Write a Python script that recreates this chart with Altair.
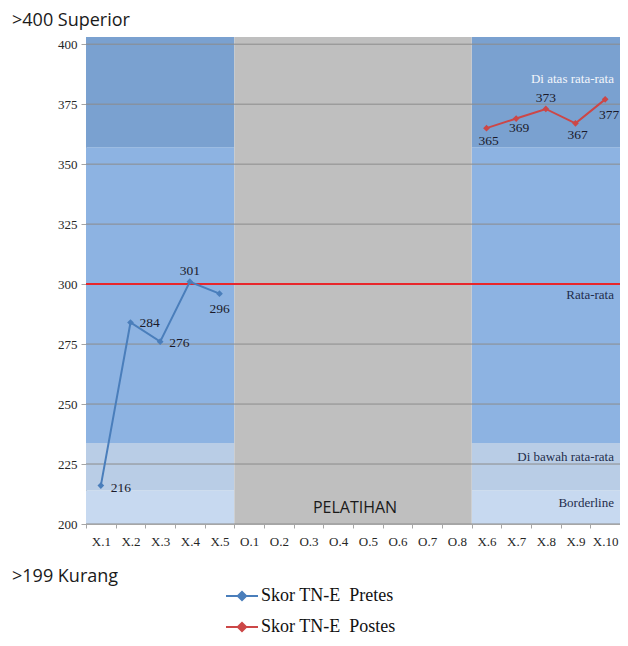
import altair as alt
import pandas as pd

# ---------------- data ----------------
categories = ["X.1", "X.2", "X.3", "X.4", "X.5",
              "O.1", "O.2", "O.3", "O.4", "O.5", "O.6", "O.7", "O.8",
              "X.6", "X.7", "X.8", "X.9", "X.10"]
pretes_cats = ["X.1", "X.2", "X.3", "X.4", "X.5"]
pretes_scores = [216, 284, 276, 301, 296]
postes_cats = ["X.6", "X.7", "X.8", "X.9", "X.10"]
postes_scores = [365, 369, 373, 367, 377]
series_names = ["Skor TN-E\u00a0 Pretes", "Skor TN-E\u00a0 Postes"]
series_colors = ["#4a7ebb", "#cc4747"]

band_names = ["Borderline", "Di bawah rata-rata", "Rata-rata", "Di atas rata-rata"]
band_low = [200, 214, 233.75, 357]
band_high = [214, 233.75, 357, 403]
band_colors = ["#c7d9f0", "#b9cde6", "#8db3e2", "#7aa1d0"]
scored_spans = [["X.1", "X.5"], ["X.6", "X.10"]]
training_span = ["O.1", "O.8"]
training_label = "PELATIHAN"
mean_score = [300]
y_ticks = [200, 225, 250, 275, 300, 325, 350, 375, 400]
y_domain = [200, 403]
top_note = ">400 Superior"
bottom_note = ">199 Kurang"

# ---------------- tables ----------------
band_rows = []
for s, e in scored_spans:
    for n, lo, hi in zip(band_names, band_low, band_high):
        band_rows.append({"start": s, "end": e, "low": lo, "high": hi, "band": n})
bands_df = pd.DataFrame(band_rows)
train_df = pd.DataFrame({"start": [training_span[0]], "end": [training_span[1]],
                         "low": [y_domain[0]], "high": [y_domain[1]]})
grid_df = pd.DataFrame({"tick": y_ticks})
mean_df = pd.DataFrame({"score": mean_score})
lines_df = pd.DataFrame({
    "category": pretes_cats + postes_cats,
    "score": pretes_scores + postes_scores,
    "series": [series_names[0]] * len(pretes_cats) + [series_names[1]] * len(postes_cats),
})

SERIF = "Liberation Serif"
SANS = "Open Sans"

xscale = alt.Scale(domain=categories, paddingInner=0, paddingOuter=0)
yscale = alt.Scale(domain=y_domain, nice=False, zero=False)

xaxis = alt.Axis(title=None, labelAngle=0, labelFont=SERIF, labelFontSize=13,
                 labelColor="#262626", domainColor="#a6a6a6", tickColor="#a6a6a6",
                 tickSize=4, tickBand="extent", labelPadding=7, grid=False)
yaxis = alt.Axis(title=None, values=y_ticks, labelFont=SERIF, labelFontSize=13,
                 labelColor="#262626", domainColor="#a6a6a6", tickColor="#a6a6a6",
                 tickSize=5, labelPadding=4, grid=False)

bands = alt.Chart(bands_df).mark_rect(strokeWidth=0).encode(
    x=alt.X("start:N", scale=xscale, sort=categories, bandPosition=0, axis=xaxis),
    x2=alt.X2("end:N", bandPosition=1),
    y=alt.Y("low:Q", scale=yscale, axis=yaxis),
    y2="high:Q",
    fill=alt.Fill("band:N", scale=alt.Scale(domain=band_names, range=band_colors), legend=None),
)

training = alt.Chart(train_df).mark_rect(color="#bfbfbf", strokeWidth=0).encode(
    x=alt.X("start:N", sort=categories, bandPosition=0),
    x2=alt.X2("end:N", bandPosition=1),
    y="low:Q",
    y2="high:Q",
)

grid = alt.Chart(grid_df).mark_rule(color="#8c8c8c", strokeWidth=1).encode(y="tick:Q")

mean_rule = alt.Chart(mean_df).mark_rule(color="#e8262b", strokeWidth=2).encode(y="score:Q")

legend = alt.Legend(
    title=None, orient="none", legendX=139, legendY=542, padding=0,
    symbolType="M-1,0L1,0M-0.26,0L0,-0.26L0.26,0L0,0.26Z",
    symbolSize=1024, symbolStrokeWidth=2, rowPadding=5, labelOffset=2,
    labelFont=SERIF, labelFontSize=18, labelColor="#111111", labelLimit=300,
)

lines = alt.Chart(lines_df).mark_line(
    strokeWidth=2,
    point=alt.OverlayMarkDef(shape="diamond", filled=True, size=45),
).encode(
    x=alt.X("category:N", sort=categories),
    y="score:Q",
    color=alt.Color("series:N", scale=alt.Scale(domain=series_names, range=series_colors),
                    legend=legend),
)

# data labels, one small layer per point placement
label_place = {
    "X.1": (10, 2, "left"), "X.2": (9, 1, "left"), "X.3": (9, 1, "left"),
    "X.4": (0, -11, "center"), "X.5": (0, 15, "center"),
    "X.6": (2, 13, "center"), "X.7": (3, 9, "center"), "X.8": (0, -11, "center"),
    "X.9": (2, 12, "center"), "X.10": (4, 16, "center"),
}
label_layers = []
for cat, (dx, dy, al) in label_place.items():
    label_layers.append(
        alt.Chart(lines_df).transform_filter(alt.datum.category == cat).mark_text(
            font=SERIF, fontSize=13.5, color="#1a1a2a", dx=dx, dy=dy, align=al,
            baseline="middle",
        ).encode(x=alt.X("category:N", sort=categories), y="score:Q", text="score:Q")
    )

# band name annotations
band_label_at = {"Di atas rata-rata": 385.4, "Rata-rata": 295.4,
                 "Di bawah rata-rata": 227.9, "Borderline": 208.6}
band_label_color = {"Di atas rata-rata": "#f3f6fb", "Rata-rata": "#1f2d4d",
                    "Di bawah rata-rata": "#1f2d4d", "Borderline": "#1f2d4d"}
band_label_layers = []
for n in band_names:
    band_label_layers.append(
        alt.Chart(pd.DataFrame({"t": [n]})).mark_text(
            font=SERIF, fontSize=13, color=band_label_color[n], align="right",
            baseline="middle",
        ).encode(x=alt.value(528), y=alt.datum(band_label_at[n]), text="t:N")
    )

train_text = alt.Chart(pd.DataFrame({"t": [training_label]})).mark_text(
    font=SANS, fontSize=16, color="#1a1a1a", align="center", baseline="middle",
).encode(x=alt.value(269), y=alt.datum(206.5), text="t:N")

top_text = alt.Chart(pd.DataFrame({"t": [top_note]})).mark_text(
    font=SANS, fontSize=18, color="#1a1a1a", align="left", baseline="middle",
).encode(x=alt.value(-74), y=alt.value(-16), text="t:N")

bottom_text = alt.Chart(pd.DataFrame({"t": [bottom_note]})).mark_text(
    font=SANS, fontSize=18, color="#1a1a1a", align="left", baseline="middle",
).encode(x=alt.value(-74), y=alt.value(540), text="t:N")

chart = alt.layer(
    bands, training, grid, mean_rule, lines,
    *label_layers, *band_label_layers, train_text, top_text, bottom_text,
).properties(
    width=534, height=487, autosize="none",
    padding={"left": 78, "top": 29, "right": 0, "bottom": 114},
).configure_view(
    stroke=None
).configure_legend(
    labelFont=SERIF, labelFontSize=18, labelColor="#111111"
)

chart.save("out.html", embed_options={"renderer": "svg", "actions": False})
